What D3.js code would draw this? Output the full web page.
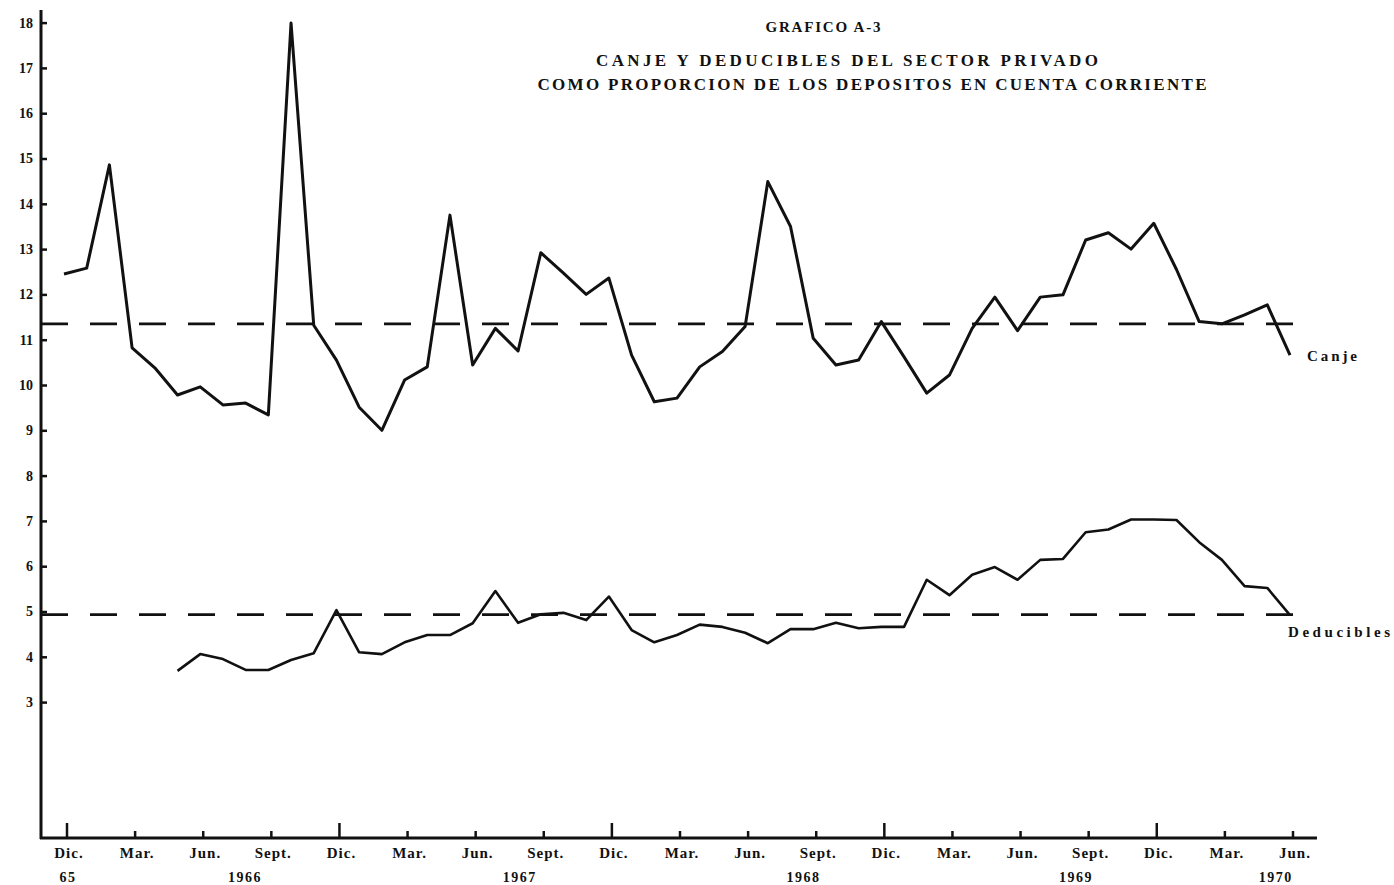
<!DOCTYPE html>
<html>
<head>
<meta charset="utf-8">
<script src="https://cdn.jsdelivr.net/npm/d3@7"></script>
<style>
  html, body { margin: 0; padding: 0; background: #fff; }
  svg { display: block; }
  text { font-family: "Liberation Serif", "DejaVu Serif", serif; font-weight: bold; fill: #111; }
</style>
</head>
<body>
<svg id="chart" width="1394" height="885"></svg>
<script>
// ---- data (monthly, Dic 1965 .. Jun 1970) ----
const monthCount = 55;
const canje = [12.45, 12.58, 14.86, 10.82, 10.38, 9.78, 9.96, 9.56, 9.60, 9.34,
  17.99, 11.32, 10.55, 9.51, 9.0, 10.11, 10.40, 13.75, 10.44, 11.25,
  10.75, 12.92, 12.47, 12.0, 12.36, 10.66, 9.63, 9.71, 10.40, 10.74,
  11.29, 14.49, 13.5, 11.03, 10.44, 10.55, 11.40, 10.62, 9.82, 10.22,
  11.25, 11.94, 11.20, 11.94, 11.99, 13.20, 13.36, 13.0, 13.57, 12.55,
  11.40, 11.35, 11.55, 11.77, 10.66];
const deducibles = [null, null, null, null, null, 3.69, 4.06, 3.95, 3.71, 3.71,
  3.93, 4.08, 5.03, 4.10, 4.06, 4.32, 4.48, 4.48, 4.74, 5.45,
  4.75, 4.94, 4.97, 4.81, 5.33, 4.59, 4.32, 4.48, 4.71, 4.66,
  4.53, 4.30, 4.61, 4.61, 4.75, 4.63, 4.66, 4.66, 5.70, 5.36,
  5.81, 5.98, 5.70, 6.14, 6.16, 6.75, 6.81, 7.03, 7.03, 7.02,
  6.53, 6.14, 5.56, 5.52, 4.92];
const canjeMean = 11.35;
const deduciblesMean = 4.93;
const monthTickIndex = [0, 3, 6, 9, 12, 15, 18, 21, 24, 27, 30, 33, 36, 39, 42, 45, 48, 51, 54];
const monthTickLabels = ["Dic.", "Mar.", "Jun.", "Sept.", "Dic.", "Mar.", "Jun.", "Sept.", "Dic.",
  "Mar.", "Jun.", "Sept.", "Dic.", "Mar.", "Jun.", "Sept.", "Dic.", "Mar.", "Jun."];
const yearLabels = ["65", "1966", "1967", "1968", "1969", "1970"];
const yearLabelIndex = [0, 7.8, 19.9, 32.4, 44.4, 53.2];
const yTickValues = [3, 4, 5, 6, 7, 8, 9, 10, 11, 12, 13, 14, 15, 16, 17, 18];
const titleLines = ["GRAFICO A-3", "CANJE Y DEDUCIBLES DEL SECTOR PRIVADO",
  "COMO PROPORCION DE LOS DEPOSITOS EN CUENTA CORRIENTE"];
const seriesLabels = ["Canje", "Deducibles"];

// ---- layout ----
const svg = d3.select("#chart");
const axisX = 41, axisY = 838;
const x = d3.scaleLinear().domain([0, monthCount - 1]).range([64, 1290]);
const y = d3.scaleLinear().domain([0, 18]).range([axisY, 22.6]);
const ink = "#111";

// y axis
const yAxis = d3.axisLeft(y).tickValues(yTickValues).tickSizeInner(-6).tickSizeOuter(0).tickPadding(8);
const gy = svg.append("g").attr("transform", `translate(${axisX},0)`).call(yAxis);
gy.attr("font-size", 14).attr("font-family", "Liberation Serif");
gy.select(".domain").remove();
gy.selectAll(".tick line").attr("stroke", ink).attr("stroke-width", 2.5);
gy.selectAll(".tick text").style("font-size", "14px").attr("font-weight", "bold").attr("fill", ink);
svg.append("line").attr("x1", axisX).attr("x2", axisX).attr("y1", y(18.28)).attr("y2", axisY + 1)
  .attr("stroke", ink).attr("stroke-width", 3);

// x axis
svg.append("line").attr("x1", axisX - 1).attr("x2", 1317).attr("y1", axisY).attr("y2", axisY)
  .attr("stroke", ink).attr("stroke-width", 3);
svg.append("g").selectAll("line").data(monthTickIndex).join("line")
  .attr("x1", d => x(d) + 3).attr("x2", d => x(d) + 3)
  .attr("y1", axisY).attr("y2", (d, i) => axisY - (monthTickLabels[i] === "Dic." ? 15 : 7))
  .attr("stroke", ink).attr("stroke-width", 2.5);
svg.append("g").selectAll("text").data(monthTickIndex).join("text")
  .attr("x", d => x(d) + 5).attr("y", 858)
  .attr("text-anchor", "middle").style("font-size", "15px").attr("letter-spacing", 1)
  .text((d, i) => monthTickLabels[i]);
svg.append("g").selectAll("text").data(yearLabelIndex).join("text")
  .attr("x", d => x(d) + 4).attr("y", 882)
  .attr("text-anchor", "middle").style("font-size", "14px").attr("letter-spacing", 1.5)
  .text((d, i) => yearLabels[i]);

// mean dashed lines
[canjeMean, deduciblesMean].forEach(m => {
  svg.append("line").attr("x1", axisX).attr("x2", 1296).attr("y1", y(m)).attr("y2", y(m))
    .attr("stroke", ink).attr("stroke-width", 2.8).attr("stroke-dasharray", "27,22");
});

// series lines
const line = d3.line().defined(d => d != null).x((d, i) => x(i)).y(d => y(d));
svg.append("path").datum(canje).attr("d", line).attr("fill", "none")
  .attr("stroke", ink).attr("stroke-width", 3).attr("stroke-linejoin", "round");
svg.append("path").datum(deducibles).attr("d", line).attr("fill", "none")
  .attr("stroke", ink).attr("stroke-width", 2.6).attr("stroke-linejoin", "round");

// series labels
svg.append("text").attr("x", 1307).attr("y", 361).style("font-size", "15px")
  .attr("textLength", 50).attr("lengthAdjust", "spacing").text(seriesLabels[0]);
svg.append("text").attr("x", 1288).attr("y", 637).style("font-size", "15px")
  .attr("textLength", 102).attr("lengthAdjust", "spacing").text(seriesLabels[1]);

// title
const titleSpec = [[823, 32, 15, 115], [847, 66, 17, 502], [872, 90, 17, 669]];
titleLines.forEach((t, i) => {
  const [cx, ty, fs, w] = titleSpec[i];
  svg.append("text").attr("x", cx - w / 2).attr("y", ty).style("font-size", fs + "px")
    .attr("textLength", w).attr("lengthAdjust", "spacing").text(t);
});
</script>
</body>
</html>
